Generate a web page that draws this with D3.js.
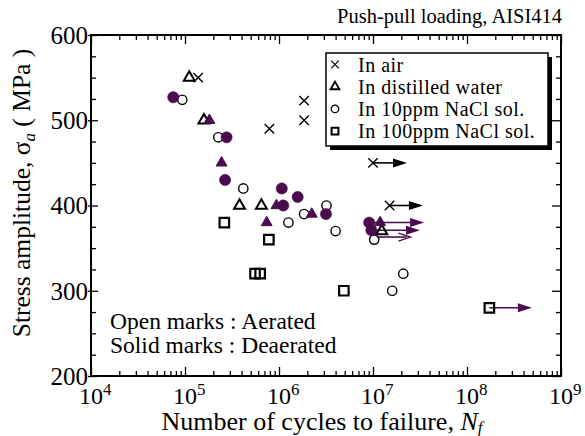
<!DOCTYPE html>
<html>
<head>
<meta charset="utf-8">
<script src="https://cdn.jsdelivr.net/npm/d3@7"></script>
<style>
body { margin: 0; background: #fff; }
svg { display: block; font-family: "Liberation Serif", "Times New Roman", serif; }
</style>
</head>
<body>
<div id="graph"></div>
<script>
// ---- data (cycles, stress in MPa) ----
var airN = [1.38e5, 1.85e6, 1.85e6, 7.9e5, 1.0e7, 1.5e7]
var airS = [550, 523, 500, 490, 450, 400]

var waterOpenN = [1.11e5, 1.59e5, 3.8e5, 6.5e5, 1.24e7]
var waterOpenS = [550, 500, 400, 400, 370]
var waterSolidN = [1.82e5, 2.45e5, 7.4e5, 9.4e5, 2.23e6, 1.19e7]
var waterSolidS = [500, 450, 380, 400, 390, 380]

var nacl10OpenN = [9.35e4, 2.26e5, 4.17e5, 1.26e6, 1.85e6, 3.2e6, 4.0e6, 1.03e7, 2.1e7, 1.6e7]
var nacl10OpenS = [524, 480, 420, 380, 390, 400, 370, 360, 320, 300]
var nacl10SolidN = [7.5e4, 2.77e5, 2.67e5, 1.07e6, 1.58e6, 1.11e6, 3.16e6, 9.1e6, 9.6e6]
var nacl10SolidS = [527, 480, 430, 420, 410, 400, 390, 380, 371]

var nacl100N = [2.62e5, 7.8e5, 5.56e5, 6.3e5, 4.9e6, 1.73e8]
var nacl100S = [380, 360, 320, 320, 300, 280]

// run-outs (no failure): start, stress, arrow tip, kind
var runStartN = [1.0e7, 1.5e7, 9.1e6, 9.6e6, 1.1e7, 1.73e8]
var runS      = [450, 400, 380, 371, 363, 280]
var runEndN   = [2.3e7, 3.4e7, 3.5e7, 3.16e7, 2.5e7, 4.9e8]
var runKind   = ['air', 'air', 'deaerated', 'deaerated', 'deaerated-open', 'deaerated']

var legendLabels = ['In air', 'In distilled water', 'In 10ppm NaCl sol.', 'In 100ppm NaCl sol.']
var yTicks = [200, 300, 400, 500, 600]
var xExp = [4, 5, 6, 7, 8, 9]

var width = 585, height = 436
var purple = '#4a0c4e'

var x = d3.scaleLog().domain([1e4, 1e9]).range([91, 561])
var y = d3.scaleLinear().domain([200, 600]).range([376, 35])

var svg = d3.select('#graph').append('svg')
    .attr('width', width)
    .attr('height', height)

//////////// ticks ////////////
var xMajor = xExp.map(function(e){ return Math.pow(10, e) })
var xMinor = []
xExp.slice(0, -1).forEach(function(e){
  for (var m = 2; m < 10; m++) xMinor.push(m * Math.pow(10, e))
})
var yMinor = d3.range(200, 601, 25).filter(function(v){ return v % 100 })

function tickGroup(axis, vals, size, tr){
  svg.append('g')
      .attr('transform', tr)
      .call(axis.tickValues(vals).tickSize(size).tickFormat(''))
      .call(function(g){
        g.select('.domain').remove()
        g.selectAll('line').attr('stroke', '#000').attr('stroke-width', 1.3)
      })
}
// inward ticks on all four sides
tickGroup(d3.axisTop(x), xMajor, 9, 'translate(0,376)')
tickGroup(d3.axisTop(x), xMinor, 5, 'translate(0,376)')
tickGroup(d3.axisBottom(x), xMajor, 9, 'translate(0,35)')
tickGroup(d3.axisBottom(x), xMinor, 5, 'translate(0,35)')
tickGroup(d3.axisRight(y), yTicks, 7, 'translate(91,0)')
tickGroup(d3.axisRight(y), yMinor, 5, 'translate(91,0)')
tickGroup(d3.axisLeft(y), yTicks, 3, 'translate(91,0)')
tickGroup(d3.axisLeft(y), yTicks, 9, 'translate(561,0)')
tickGroup(d3.axisLeft(y), yMinor, 5, 'translate(561,0)')

svg.append('rect')
    .attr('x', 91).attr('y', 35)
    .attr('width', 470).attr('height', 341)
    .attr('fill', 'none')
    .attr('stroke', '#000')
    .attr('stroke-width', 2)

// tick labels
svg.selectAll('.ylab').data(yTicks).enter().append('text')
    .attr('x', 88)
    .attr('y', function(d){ return y(d) })
    .attr('dy', '0.35em')
    .attr('text-anchor', 'end')
    .style('font-size', '25px')
    .text(function(d){ return d })

var xl = svg.selectAll('.xlab').data(xExp).enter().append('text')
    .attr('x', function(d){ return x(Math.pow(10, d)) - 12 })
    .attr('y', 404)
    .style('font-size', '24px')
xl.append('tspan').text('10')
xl.append('tspan')
    .attr('dy', -9)
    .style('font-size', '17px')
    .text(function(d){ return d })

// axis titles
var xt = svg.append('text')
    .attr('x', 322).attr('y', 430)
    .attr('text-anchor', 'middle')
    .style('font-size', '26px')
xt.append('tspan').text('Number of cycles to failure, ')
xt.append('tspan').style('font-style', 'italic').text('N')
xt.append('tspan').style('font-style', 'italic').style('font-size', '17px').attr('dy', 3).text('f')

var yt = svg.append('text')
    .attr('transform', 'translate(30,193) rotate(-90)')
    .attr('text-anchor', 'middle')
    .style('font-size', '25.5px')
yt.append('tspan').text('Stress amplitude, σ')
yt.append('tspan').style('font-style', 'italic').style('font-size', '17px').attr('dy', 5).text('a')
yt.append('tspan').attr('dy', -5).text(' ( MPa )')

svg.append('text')
    .attr('x', 562).attr('y', 23)
    .attr('text-anchor', 'end')
    .style('font-size', '20.5px')
    .text('Push-pull loading, AISI414')

svg.append('text')
    .attr('x', 110).attr('y', 329)
    .style('font-size', '23.5px')
    .text('Open marks : Aerated')
svg.append('text')
    .attr('x', 110).attr('y', 353)
    .style('font-size', '23.5px')
    .text('Solid marks : Deaerated')

//////////// markers ////////////
var sym = {
  cross: d3.symbol().type(d3.symbolTimes).size(60),
  tri: d3.symbol().type(d3.symbolTriangle2).size(85),
  circ: d3.symbol().type(d3.symbolCircle).size(68),
  circSolid: d3.symbol().type(d3.symbolCircle).size(100),
  sq: d3.symbol().type(d3.symbolSquare2).size(115)
}

// run-out arrows
var runColor = function(k){ return k == 'air' ? '#000' : purple }
var runs = svg.append('g')
runS.forEach(function(s, i){
  var x0 = x(runStartN[i]), x1 = x(runEndN[i]), yy = y(s), c = runColor(runKind[i])
  runs.append('line')
      .attr('x1', x0).attr('x2', x1 - 4).attr('y1', yy).attr('y2', yy)
      .attr('stroke', c).attr('stroke-width', 1.6)
  if (runKind[i] == 'deaerated-open') {
    runs.append('path')
        .attr('d', 'M' + (x1 - 12) + ',' + (yy - 4) + 'L' + x1 + ',' + yy + 'L' + (x1 - 12) + ',' + (yy + 4))
        .attr('fill', 'none').attr('stroke', c).attr('stroke-width', 1.4)
  } else {
    runs.append('path')
        .attr('d', 'M' + (x1 - 14) + ',' + (yy - 4.5) + 'L' + x1 + ',' + yy + 'L' + (x1 - 14) + ',' + (yy + 4.5) + 'Z')
        .attr('fill', c)
  }
})

function plot(ns, ss, gen, fill, stroke, sw){
  svg.append('g').selectAll('path')
    .data(ns.map(function(n, i){ return [n, ss[i]] }))
    .enter().append('path')
      .attr('transform', function(d){ return 'translate(' + x(d[0]) + ',' + y(d[1]) + ')' })
      .attr('d', gen)
      .attr('fill', fill)
      .attr('stroke', stroke)
      .attr('stroke-width', sw)
}

plot(airN, airS, sym.cross, 'none', '#000', 1.4)
plot(waterOpenN, waterOpenS, sym.tri, 'none', '#000', 2)
plot(nacl10OpenN, nacl10OpenS, sym.circ, 'none', '#000', 1.4)
plot(nacl100N, nacl100S, sym.sq, 'none', '#000', 2.2)
plot(waterSolidN, waterSolidS, sym.tri, purple, purple, 1)
plot(nacl10SolidN, nacl10SolidS, sym.circSolid, purple, purple, 0.5)

//////////// legend ////////////
svg.append('rect')
    .attr('x', 330).attr('y', 57).attr('width', 222).attr('height', 93)
    .attr('fill', '#000')
svg.append('rect')
    .attr('x', 326).attr('y', 53).attr('width', 222).attr('height', 93)
    .attr('fill', '#fff').attr('stroke', '#000').attr('stroke-width', 1.5)

var legSym = [
  [d3.symbol().type(d3.symbolTimes).size(40), 1.2],
  [d3.symbol().type(d3.symbolTriangle2).size(55), 1.8],
  [d3.symbol().type(d3.symbolCircle).size(45), 1.2],
  [d3.symbol().type(d3.symbolSquare2).size(60), 2]
]
var leg = svg.selectAll('.leg').data(legendLabels).enter().append('g')
    .attr('transform', function(d, i){ return 'translate(335,' + (64.5 + i * 22.2) + ')' })
leg.append('path')
    .attr('d', function(d, i){ return legSym[i][0]() })
    .attr('fill', 'none').attr('stroke', '#000')
    .attr('stroke-width', function(d, i){ return legSym[i][1] })
leg.append('text')
    .attr('x', 23).attr('y', 7)
    .style('font-size', '20px')
    .style('letter-spacing', '0.5px')
    .text(function(d){ return d })
</script>
</body>
</html>
